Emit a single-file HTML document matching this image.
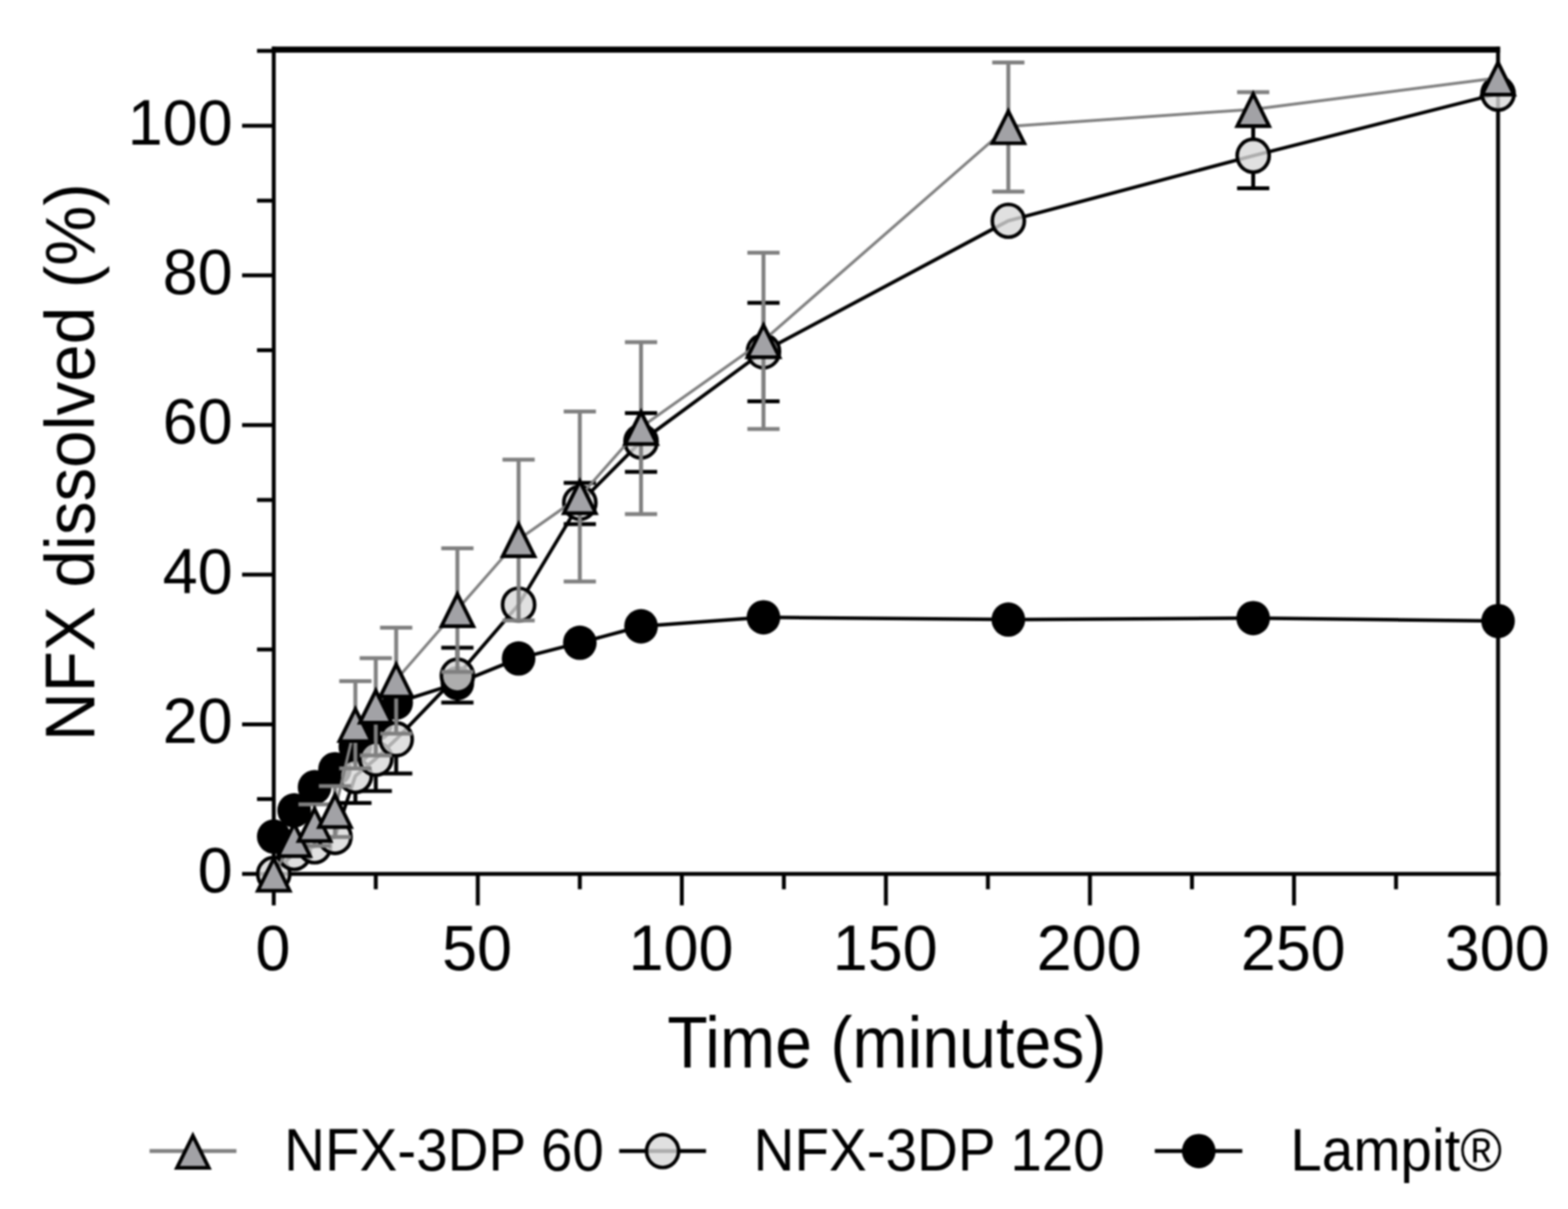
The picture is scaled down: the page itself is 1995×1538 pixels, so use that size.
<!DOCTYPE html>
<html lang="en"><head><meta charset="utf-8"><title>NFX dissolution profile</title>
<style>
html,body{margin:0;padding:0;background:#fff;}
body{width:1995px;height:1538px;overflow:hidden;}
svg{display:block;filter:blur(1px);}
text{font-family:"Liberation Sans",Arial,Helvetica,sans-serif;fill:#000;}
.tk{font-size:80px;}
.ti{font-size:84px;}
.lg{font-size:72px;}
</style></head><body>
<svg width="1995" height="1538" viewBox="0 0 1995 1538" role="img" aria-label="NFX dissolved (%) versus time (minutes)">
<rect x="0" y="0" width="1995" height="1538" fill="#fff"/>
<g id="axes" stroke="#000" fill="none" stroke-width="5">
<path d="M345.8 63.1H1908.5" stroke-width="7.7"/>
<path d="M348.3 59.4V1114.3"/>
<path d="M345.8 1111.8H1908.5"/>
<path d="M1906 59.4V1151.8"/>
<path d="M308 1111.8H348.3M308 921.44H348.3M308 731.08H348.3M308 540.72H348.3M308 350.36H348.3M308 160H348.3M327 1016.62H348.3M327 826.26H348.3M327 635.9H348.3M327 445.54H348.3M327 255.18H348.3M327 64.82H348.3M348.3 1111.8V1151.8M607.92 1111.8V1151.8M867.53 1111.8V1151.8M1127.15 1111.8V1151.8M1386.77 1111.8V1151.8M1646.38 1111.8V1151.8M478.11 1111.8V1131.2M737.73 1111.8V1131.2M997.34 1111.8V1131.2M1256.96 1111.8V1131.2M1516.58 1111.8V1131.2M1776.19 1111.8V1131.2"/>
</g>
<g id="lampit">
<polyline points="348.3,1064.21 374.26,1030.9 400.22,1001.39 426.19,978.55 452.15,949.99 478.11,921.44 504.07,893.84 581.96,869.09 659.84,837.68 737.73,817.69 815.61,796.75 971.38,785.33 1282.92,788.19 1594.46,786.28 1906,790.09" fill="none" stroke="#000" stroke-width="4.5" stroke-linejoin="round"/>
<ellipse cx="348.3" cy="1064.21" rx="21.4" ry="21.9" fill="#000"/>
<ellipse cx="374.26" cy="1030.9" rx="21.4" ry="21.9" fill="#000"/>
<ellipse cx="400.22" cy="1001.39" rx="21.4" ry="21.9" fill="#000"/>
<ellipse cx="426.19" cy="978.55" rx="21.4" ry="21.9" fill="#000"/>
<ellipse cx="452.15" cy="949.99" rx="21.4" ry="21.9" fill="#000"/>
<ellipse cx="478.11" cy="921.44" rx="21.4" ry="21.9" fill="#000"/>
<ellipse cx="504.07" cy="893.84" rx="21.4" ry="21.9" fill="#000"/>
<ellipse cx="581.96" cy="869.09" rx="21.4" ry="21.9" fill="#000"/>
<ellipse cx="659.84" cy="837.68" rx="21.4" ry="21.9" fill="#000"/>
<ellipse cx="737.73" cy="817.69" rx="21.4" ry="21.9" fill="#000"/>
<ellipse cx="815.61" cy="796.75" rx="21.4" ry="21.9" fill="#000"/>
<ellipse cx="971.38" cy="785.33" rx="21.4" ry="21.9" fill="#000"/>
<ellipse cx="1282.92" cy="788.19" rx="21.4" ry="21.9" fill="#000"/>
<ellipse cx="1594.46" cy="786.28" rx="21.4" ry="21.9" fill="#000"/>
<ellipse cx="1906" cy="790.09" rx="21.4" ry="21.9" fill="#000"/>
</g>
<g id="nfx120">
<path d="M452.15 952.85V966.21M431.65 952.85H472.65M452.15 1008.01V1021.47M431.65 1021.47H472.65M478.11 924.3V944.32M457.61 924.3H498.61M478.11 986.12V1006.15M457.61 1006.15H498.61M504.07 896.69V919.58M483.57 896.69H524.57M504.07 961.38V984.07M483.57 984.07H524.57M581.96 823.98V838.67M561.46 823.98H602.46M581.96 880.47V893.84M561.46 893.84H602.46M737.73 614.29V618.81M717.23 614.29H758.23M737.73 660.61V666.83M717.23 666.83H758.23M815.61 525.49V540.76M795.11 525.49H836.11M815.61 582.56V600.21M795.11 600.21H836.11M971.38 385.2V426.07M950.88 385.2H991.88M971.38 467.87V510.55M950.88 510.55H991.88M1594.46 157.14V177.17M1573.96 157.14H1614.96M1594.46 218.97V239.38M1573.96 239.38H1614.96" fill="none" stroke="#000" stroke-width="5"/>
<polyline points="348.3,1111.8 374.26,1085.15 400.22,1076.58 426.19,1064.69 452.15,987.11 478.11,965.22 504.07,940.48 581.96,859.57 659.84,769.15 737.73,639.71 815.61,561.66 971.38,446.97 1282.92,280.88 1594.46,198.07 1906,119.07" fill="none" stroke="#000" stroke-width="4.5" stroke-linejoin="round"/>
<ellipse cx="348.3" cy="1111.8" rx="20.4" ry="20.9" fill="rgba(216,216,216,0.8)" stroke="#000" stroke-width="4.6"/>
<ellipse cx="374.26" cy="1085.15" rx="20.4" ry="20.9" fill="rgba(216,216,216,0.8)" stroke="#000" stroke-width="4.6"/>
<ellipse cx="400.22" cy="1076.58" rx="20.4" ry="20.9" fill="rgba(216,216,216,0.8)" stroke="#000" stroke-width="4.6"/>
<ellipse cx="426.19" cy="1064.69" rx="20.4" ry="20.9" fill="rgba(216,216,216,0.8)" stroke="#000" stroke-width="4.6"/>
<ellipse cx="452.15" cy="987.11" rx="20.4" ry="20.9" fill="rgba(216,216,216,0.8)" stroke="#000" stroke-width="4.6"/>
<ellipse cx="478.11" cy="965.22" rx="20.4" ry="20.9" fill="rgba(216,216,216,0.8)" stroke="#000" stroke-width="4.6"/>
<ellipse cx="504.07" cy="940.48" rx="20.4" ry="20.9" fill="rgba(216,216,216,0.8)" stroke="#000" stroke-width="4.6"/>
<ellipse cx="581.96" cy="859.57" rx="20.4" ry="20.9" fill="rgba(216,216,216,0.8)" stroke="#000" stroke-width="4.6"/>
<ellipse cx="659.84" cy="769.15" rx="20.4" ry="20.9" fill="rgba(216,216,216,0.8)" stroke="#000" stroke-width="4.6"/>
<ellipse cx="737.73" cy="639.71" rx="20.4" ry="20.9" fill="rgba(216,216,216,0.8)" stroke="#000" stroke-width="4.6"/>
<ellipse cx="815.61" cy="561.66" rx="20.4" ry="20.9" fill="rgba(216,216,216,0.8)" stroke="#000" stroke-width="4.6"/>
<ellipse cx="971.38" cy="446.97" rx="20.4" ry="20.9" fill="rgba(216,216,216,0.8)" stroke="#000" stroke-width="4.6"/>
<ellipse cx="1282.92" cy="280.88" rx="20.4" ry="20.9" fill="rgba(216,216,216,0.8)" stroke="#000" stroke-width="4.6"/>
<ellipse cx="1594.46" cy="198.07" rx="20.4" ry="20.9" fill="rgba(216,216,216,0.8)" stroke="#000" stroke-width="4.6"/>
<ellipse cx="1906" cy="119.07" rx="20.4" ry="20.9" fill="rgba(216,216,216,0.8)" stroke="#000" stroke-width="4.6"/>
</g>
<g id="nfx60">
<path d="M400.22 1023.19V1048.51M379.72 1023.19H420.72M400.22 1048.51V1075.92M379.72 1075.92H420.72M426.19 1000.06V1030.9M405.69 1000.06H446.69M426.19 1030.9V1064.78M405.69 1064.78H446.69M452.15 866.43V921.44M431.65 866.43H472.65M452.15 921.44V977.6M431.65 977.6H472.65M478.11 837.3V898.12M457.61 837.3H498.61M478.11 898.12V961.03M457.61 961.03H498.61M504.07 798.47V864.81M483.57 798.47H524.57M504.07 864.81V933.24M483.57 933.24H524.57M581.96 697.58V775.34M561.46 697.58H602.46M581.96 775.34V854.81M561.46 854.81H602.46M659.84 584.79V686.35M639.34 584.79H680.34M659.84 686.35V789.14M639.34 789.14H680.34M737.73 523.59V631.62M717.23 523.59H758.23M737.73 631.62V739.74M717.23 739.74H758.23M815.61 435.36V543.58M795.11 435.36H836.11M815.61 543.58V653.98M795.11 653.98H836.11M971.38 321.62V433.17M950.88 321.62H991.88M971.38 433.17V545.86M950.88 545.86H991.88M1282.92 79.38V160.95M1262.42 79.38H1303.42M1282.92 160.95V243.76M1262.42 243.76H1303.42M1594.46 117.17V139.06M1573.96 117.17H1614.96M1594.46 139.06V160M1573.96 160H1614.96" fill="none" stroke="#808080" stroke-width="5"/>
<polyline points="348.3,1111.8 374.26,1067.73 400.22,1048.51 426.19,1030.9 452.15,921.44 478.11,898.12 504.07,864.81 581.96,775.34 659.84,686.35 737.73,631.62 815.61,543.58 971.38,433.17 1282.92,160.95 1594.46,139.06 1906,99.08" fill="none" stroke="#808080" stroke-width="3.7" stroke-linejoin="round"/>
<path d="M0 -19.5L20.3 21.3H-20.3Z" transform="translate(348.3 1111.8)" fill="#a2a2a6" stroke="#000" stroke-width="4.7" stroke-linejoin="miter" stroke-miterlimit="10"/>
<path d="M0 -19.5L20.3 21.3H-20.3Z" transform="translate(374.26 1067.73)" fill="#a2a2a6" stroke="#000" stroke-width="4.7" stroke-linejoin="miter" stroke-miterlimit="10"/>
<path d="M0 -19.5L20.3 21.3H-20.3Z" transform="translate(400.22 1048.51)" fill="#a2a2a6" stroke="#000" stroke-width="4.7" stroke-linejoin="miter" stroke-miterlimit="10"/>
<path d="M0 -19.5L20.3 21.3H-20.3Z" transform="translate(426.19 1030.9)" fill="#a2a2a6" stroke="#000" stroke-width="4.7" stroke-linejoin="miter" stroke-miterlimit="10"/>
<path d="M0 -19.5L20.3 21.3H-20.3Z" transform="translate(452.15 921.44)" fill="#a2a2a6" stroke="#000" stroke-width="4.7" stroke-linejoin="miter" stroke-miterlimit="10"/>
<path d="M0 -19.5L20.3 21.3H-20.3Z" transform="translate(478.11 898.12)" fill="#a2a2a6" stroke="#000" stroke-width="4.7" stroke-linejoin="miter" stroke-miterlimit="10"/>
<path d="M0 -19.5L20.3 21.3H-20.3Z" transform="translate(504.07 864.81)" fill="#a2a2a6" stroke="#000" stroke-width="4.7" stroke-linejoin="miter" stroke-miterlimit="10"/>
<path d="M0 -19.5L20.3 21.3H-20.3Z" transform="translate(581.96 775.34)" fill="#a2a2a6" stroke="#000" stroke-width="4.7" stroke-linejoin="miter" stroke-miterlimit="10"/>
<path d="M0 -19.5L20.3 21.3H-20.3Z" transform="translate(659.84 686.35)" fill="#a2a2a6" stroke="#000" stroke-width="4.7" stroke-linejoin="miter" stroke-miterlimit="10"/>
<path d="M0 -19.5L20.3 21.3H-20.3Z" transform="translate(737.73 631.62)" fill="#a2a2a6" stroke="#000" stroke-width="4.7" stroke-linejoin="miter" stroke-miterlimit="10"/>
<path d="M0 -19.5L20.3 21.3H-20.3Z" transform="translate(815.61 543.58)" fill="#a2a2a6" stroke="#000" stroke-width="4.7" stroke-linejoin="miter" stroke-miterlimit="10"/>
<path d="M0 -19.5L20.3 21.3H-20.3Z" transform="translate(971.38 433.17)" fill="#a2a2a6" stroke="#000" stroke-width="4.7" stroke-linejoin="miter" stroke-miterlimit="10"/>
<path d="M0 -19.5L20.3 21.3H-20.3Z" transform="translate(1282.92 160.95)" fill="#a2a2a6" stroke="#000" stroke-width="4.7" stroke-linejoin="miter" stroke-miterlimit="10"/>
<path d="M0 -19.5L20.3 21.3H-20.3Z" transform="translate(1594.46 139.06)" fill="#a2a2a6" stroke="#000" stroke-width="4.7" stroke-linejoin="miter" stroke-miterlimit="10"/>
<path d="M0 -19.5L20.3 21.3H-20.3Z" transform="translate(1906 99.08)" fill="#a2a2a6" stroke="#000" stroke-width="4.7" stroke-linejoin="miter" stroke-miterlimit="10"/>
</g>
<g id="ylabels">
<text class="tk" text-anchor="end" transform="translate(296 1135.3) scale(1 1.03)">0</text>
<text class="tk" text-anchor="end" transform="translate(296 944.94) scale(1 1.03)">20</text>
<text class="tk" text-anchor="end" transform="translate(296 754.58) scale(1 1.03)">40</text>
<text class="tk" text-anchor="end" transform="translate(296 564.22) scale(1 1.03)">60</text>
<text class="tk" text-anchor="end" transform="translate(296 373.86) scale(1 1.03)">80</text>
<text class="tk" text-anchor="end" transform="translate(296 183.5) scale(1 1.03)">100</text>
</g>
<g id="xlabels">
<text class="tk" text-anchor="middle" transform="translate(347.3 1234.3) scale(1 1.03)">0</text>
<text class="tk" text-anchor="middle" transform="translate(606.92 1234.3) scale(1 1.03)">50</text>
<text class="tk" text-anchor="middle" transform="translate(866.53 1234.3) scale(1 1.03)">100</text>
<text class="tk" text-anchor="middle" transform="translate(1126.15 1234.3) scale(1 1.03)">150</text>
<text class="tk" text-anchor="middle" transform="translate(1385.77 1234.3) scale(1 1.03)">200</text>
<text class="tk" text-anchor="middle" transform="translate(1645.38 1234.3) scale(1 1.03)">250</text>
<text class="tk" text-anchor="middle" transform="translate(1905 1234.3) scale(1 1.03)">300</text>
</g>
<text class="ti" text-anchor="middle" transform="translate(1128.3 1358.2) scale(1 1.09)" style="font-size:84.3px">Time (minutes)</text>
<text class="ti" text-anchor="middle" transform="translate(120.3 588) rotate(-90) scale(1 1.04)" style="font-size:85.7px">NFX dissolved (%)</text>
<g id="legend">
<path d="M190.3 1464.3H300.8" stroke="#808080" stroke-width="5" fill="none"/>
<path d="M0 -19.5L20.3 21.3H-20.3Z" transform="translate(245.4 1464.3)" fill="#a2a2a6" stroke="#000" stroke-width="4.7" stroke-miterlimit="10"/>
<text class="lg" text-anchor="start" transform="translate(361.6 1488.8) scale(1 1.06)">NFX-3DP 60</text>
<path d="M787.8 1464.3H898.3" stroke="#000" stroke-width="5" fill="none"/>
<ellipse cx="843" cy="1464.3" rx="20.4" ry="20.9" fill="rgba(216,216,216,0.8)" stroke="#000" stroke-width="4.6"/>
<text class="lg" text-anchor="start" transform="translate(958.8 1488.8) scale(1 1.06)">NFX-3DP 120</text>
<path d="M1469.3 1464.3H1580.6" stroke="#000" stroke-width="5" fill="none"/>
<ellipse cx="1525.2" cy="1464.3" rx="21.4" ry="21.9" fill="#000"/>
<text class="lg" text-anchor="start" transform="translate(1641.8 1488.8) scale(1 1.06)">Lampit®</text>
</g>
</svg>
</body></html>
